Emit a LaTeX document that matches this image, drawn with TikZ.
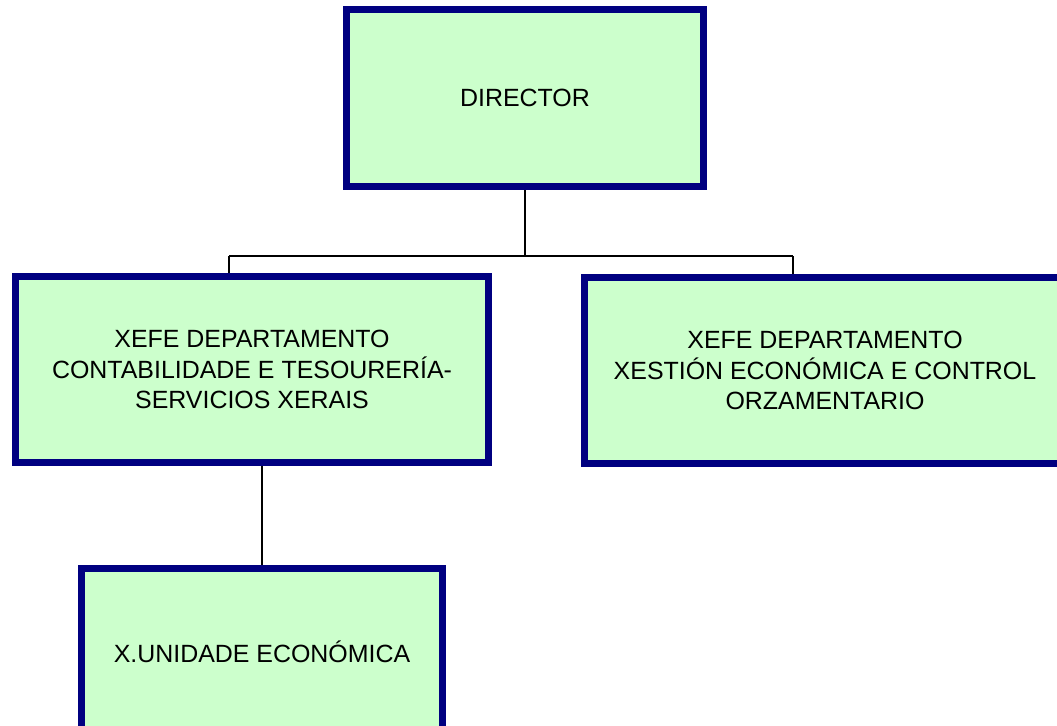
\documentclass[tikz,border=0pt]{standalone}
\usepackage{fontspec}
\setmainfont{Liberation Sans}
\usetikzlibrary{backgrounds}
\definecolor{boxfill}{HTML}{CCFFCC}
\definecolor{boxline}{HTML}{000080}
\tikzset{
 unit/.style={draw=boxline, fill=boxfill, line width=5.25pt, rectangle, inner sep=0pt,
   align=center, font=\fontsize{18.7}{23}\selectfont},
 link/.style={black, line width=1.3pt}
}
\begin{document}
\begin{tikzpicture}[x=0.75pt, y=-0.75pt]
\useasboundingbox (0,0) rectangle (1057,725);
\clip (0,0) rectangle (1057,725);
\node[unit, minimum width=357*0.75pt, minimum height=177*0.75pt] (director) at (525,98) {DIRECTOR};
\node[unit, minimum width=473*0.75pt, minimum height=186*0.75pt] (contab) at (252,369.5)
 {XEFE DEPARTAMENTO\\CONTABILIDADE E TESOURERÍA-\\SERVICIOS XERAIS};
\node[unit, minimum width=481*0.75pt, minimum height=186*0.75pt] (xestion) at (825,370.5)
 {XEFE DEPARTAMENTO\\XESTIÓN ECONÓMICA E CONTROL\\ORZAMENTARIO};
\node[unit, minimum width=361*0.75pt, minimum height=167*0.75pt] (unidade) at (262,652)
 {X.UNIDADE ECONÓMICA};
\coordinate (busL) at (229,256);
\coordinate (busR) at (793,256);
\begin{scope}[on background layer]
\draw[link] (director.south) -- (director.south |- busL);
\draw[link] (busL) -- (busR);
\draw[link] (busL) -- (busL |- contab.north);
\draw[link] (busR) -- (busR |- xestion.north);
\draw[link] (unidade.north) -- (unidade.north |- contab.south);
\end{scope}
\end{tikzpicture}
\end{document}
